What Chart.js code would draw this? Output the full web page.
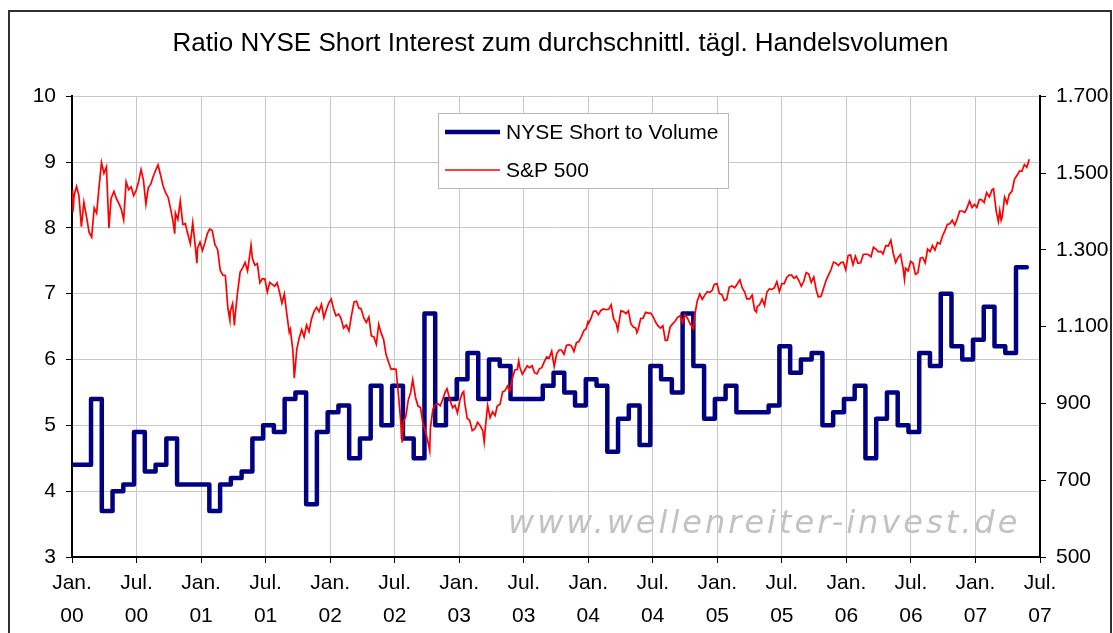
<!DOCTYPE html>
<html>
<head>
<meta charset="utf-8">
<script src="https://cdn.jsdelivr.net/npm/chart.js@4.4.1/dist/chart.umd.min.js"></script>
<style>
  html, body { margin: 0; padding: 0; background: #fff; }
</style>
</head>
<body>
<canvas id="chart" width="1113" height="633"></canvas>
<script>
// NYSE short interest / avg daily volume, one value per month from Jan 2000
const shortRatio = [
  4.4, 4.4, 5.4, 3.7, 4.0, 4.1, 4.9, 4.3, 4.4, 4.8, 4.1, 4.1,
  4.1, 3.7, 4.1, 4.2, 4.3, 4.8, 5.0, 4.9, 5.4, 5.5, 3.8, 4.9,
  5.2, 5.3, 4.5, 4.8, 5.6, 5.0, 5.6, 4.8, 4.5, 6.7, 5.0, 5.4,
  5.7, 6.1, 5.4, 6.0, 5.9, 5.4, 5.4, 5.4, 5.6, 5.8, 5.5, 5.3,
  5.7, 5.6, 4.6, 5.1, 5.3, 4.7, 5.9, 5.7, 5.5, 6.7, 5.9, 5.1,
  5.4, 5.6, 5.2, 5.2, 5.2, 5.3, 6.2, 5.8, 6.0, 6.1, 5.0, 5.2,
  5.4, 5.6, 4.5, 5.1, 5.5, 5.0, 4.9, 6.1, 5.9, 7.0, 6.2, 6.0,
  6.3, 6.8, 6.2, 6.1, 7.4
];

// S&P 500, roughly weekly closes plus a few extreme days
const spxDates = [
  "2000-01-03","2000-01-04","2000-01-07","2000-01-14","2000-01-21","2000-01-28","2000-02-04","2000-02-11","2000-02-18","2000-02-25",
  "2000-03-03","2000-03-10","2000-03-17","2000-03-24","2000-03-31","2000-04-07","2000-04-14","2000-04-20","2000-04-28","2000-05-05",
  "2000-05-12","2000-05-19","2000-05-26","2000-06-02","2000-06-09","2000-06-16","2000-06-23","2000-06-30","2000-07-07","2000-07-14",
  "2000-07-21","2000-07-28","2000-08-04","2000-08-11","2000-08-18","2000-08-25","2000-09-01","2000-09-08","2000-09-15","2000-09-22",
  "2000-09-29","2000-10-06","2000-10-13","2000-10-18","2000-10-20","2000-10-27","2000-11-03","2000-11-10","2000-11-17","2000-11-24",
  "2000-12-01","2000-12-08","2000-12-15","2000-12-20","2000-12-22","2000-12-29",
  "2001-01-05","2001-01-12","2001-01-19","2001-01-26","2001-02-02","2001-02-09","2001-02-16","2001-02-23","2001-03-02","2001-03-09",
  "2001-03-16","2001-03-22","2001-03-23","2001-03-30","2001-04-04","2001-04-06","2001-04-12","2001-04-20","2001-04-27","2001-05-04",
  "2001-05-11","2001-05-18","2001-05-21","2001-05-25","2001-06-01","2001-06-08","2001-06-15","2001-06-22","2001-06-29","2001-07-06",
  "2001-07-13","2001-07-20","2001-07-27","2001-08-03","2001-08-10","2001-08-17","2001-08-24","2001-08-31","2001-09-07","2001-09-10",
  "2001-09-17","2001-09-21","2001-09-28","2001-10-05","2001-10-12","2001-10-19","2001-10-26","2001-11-02","2001-11-09","2001-11-16",
  "2001-11-23","2001-11-30","2001-12-07","2001-12-14","2001-12-21","2001-12-28",
  "2002-01-04","2002-01-11","2002-01-18","2002-01-25","2002-02-01","2002-02-08","2002-02-15","2002-02-22","2002-03-01","2002-03-08",
  "2002-03-15","2002-03-22","2002-03-28","2002-04-05","2002-04-12","2002-04-19","2002-04-26","2002-05-03","2002-05-10","2002-05-17",
  "2002-05-24","2002-05-31","2002-06-07","2002-06-14","2002-06-21","2002-06-28","2002-07-05","2002-07-12","2002-07-19","2002-07-23",
  "2002-07-26","2002-08-02","2002-08-09","2002-08-16","2002-08-22","2002-08-30","2002-09-06","2002-09-13","2002-09-20","2002-09-27",
  "2002-10-04","2002-10-09","2002-10-11","2002-10-18","2002-10-25","2002-11-01","2002-11-08","2002-11-15","2002-11-22","2002-11-27",
  "2002-12-06","2002-12-13","2002-12-20","2002-12-27",
  "2003-01-03","2003-01-10","2003-01-14","2003-01-17","2003-01-24","2003-01-31","2003-02-07","2003-02-14","2003-02-21","2003-02-28",
  "2003-03-07","2003-03-11","2003-03-14","2003-03-21","2003-03-28","2003-04-04","2003-04-11","2003-04-17","2003-04-25","2003-05-02",
  "2003-05-09","2003-05-16","2003-05-23","2003-05-30","2003-06-06","2003-06-13","2003-06-17","2003-06-20","2003-06-27","2003-07-03",
  "2003-07-11","2003-07-18","2003-07-25","2003-08-01","2003-08-08","2003-08-15","2003-08-22","2003-08-29","2003-09-05","2003-09-12",
  "2003-09-19","2003-09-26","2003-10-03","2003-10-10","2003-10-17","2003-10-24","2003-10-31","2003-11-07","2003-11-14","2003-11-21",
  "2003-11-28","2003-12-05","2003-12-12","2003-12-19","2003-12-26","2003-12-31",
  "2004-01-02","2004-01-09","2004-01-16","2004-01-23","2004-01-30","2004-02-06","2004-02-13","2004-02-20","2004-02-27","2004-03-05",
  "2004-03-12","2004-03-19","2004-03-24","2004-04-02","2004-04-09","2004-04-16","2004-04-23","2004-04-30","2004-05-07","2004-05-14",
  "2004-05-17","2004-05-21","2004-05-28","2004-06-04","2004-06-11","2004-06-18","2004-06-25","2004-07-02","2004-07-09","2004-07-16",
  "2004-07-23","2004-07-30","2004-08-06","2004-08-12","2004-08-20","2004-08-27","2004-09-03","2004-09-10","2004-09-17","2004-09-24",
  "2004-10-01","2004-10-08","2004-10-15","2004-10-25","2004-10-29","2004-11-05","2004-11-12","2004-11-19","2004-11-26","2004-12-03",
  "2004-12-10","2004-12-17","2004-12-23","2004-12-31",
  "2005-01-07","2005-01-14","2005-01-21","2005-01-28","2005-02-04","2005-02-11","2005-02-18","2005-02-25","2005-03-04","2005-03-11",
  "2005-03-18","2005-03-24","2005-04-01","2005-04-08","2005-04-15","2005-04-20","2005-04-22","2005-04-29","2005-05-06","2005-05-13",
  "2005-05-20","2005-05-27","2005-06-03","2005-06-10","2005-06-17","2005-06-24","2005-07-01","2005-07-08","2005-07-15","2005-07-22",
  "2005-07-29","2005-08-05","2005-08-12","2005-08-19","2005-08-26","2005-09-02","2005-09-09","2005-09-16","2005-09-23","2005-09-30",
  "2005-10-07","2005-10-13","2005-10-21","2005-10-28","2005-11-04","2005-11-11","2005-11-18","2005-11-25","2005-12-02","2005-12-09",
  "2005-12-16","2005-12-23","2005-12-30",
  "2006-01-06","2006-01-13","2006-01-20","2006-01-27","2006-02-03","2006-02-10","2006-02-17","2006-02-24","2006-03-03","2006-03-10",
  "2006-03-17","2006-03-24","2006-03-31","2006-04-07","2006-04-13","2006-04-21","2006-04-28","2006-05-05","2006-05-12","2006-05-19",
  "2006-05-26","2006-06-02","2006-06-09","2006-06-13","2006-06-16","2006-06-23","2006-06-30","2006-07-07","2006-07-14","2006-07-21",
  "2006-07-28","2006-08-04","2006-08-11","2006-08-18","2006-08-25","2006-09-01","2006-09-08","2006-09-15","2006-09-22","2006-09-29",
  "2006-10-06","2006-10-13","2006-10-20","2006-10-27","2006-11-03","2006-11-10","2006-11-17","2006-11-24","2006-12-01","2006-12-08",
  "2006-12-15","2006-12-22","2006-12-29",
  "2007-01-05","2007-01-12","2007-01-19","2007-01-26","2007-02-02","2007-02-09","2007-02-16","2007-02-20","2007-02-27","2007-03-02",
  "2007-03-05","2007-03-09","2007-03-13","2007-03-16","2007-03-23","2007-03-30","2007-04-05","2007-04-13","2007-04-20","2007-04-27",
  "2007-05-04","2007-05-11","2007-05-18","2007-05-25","2007-06-01"
];
const spxValues = [
  1455, 1399, 1441, 1465, 1441, 1360, 1424, 1387, 1346, 1333,
  1409, 1395, 1464, 1527, 1499, 1516, 1357, 1434, 1452, 1433,
  1421, 1406, 1378, 1477, 1457, 1464, 1441, 1455, 1478, 1509,
  1481, 1419, 1462, 1471, 1491, 1507, 1521, 1495, 1466, 1449,
  1437, 1408, 1374, 1342, 1396, 1379, 1427, 1366, 1368, 1341,
  1316, 1370, 1312, 1265, 1305, 1320,
  1298, 1318, 1342, 1354, 1350, 1314, 1301, 1246, 1234, 1233,
  1150, 1117, 1139, 1160, 1103, 1128, 1183, 1242, 1253, 1267,
  1245, 1291, 1312, 1277, 1260, 1264, 1214, 1225, 1224, 1190,
  1215, 1210, 1205, 1214, 1190, 1161, 1185, 1134, 1085, 1093,
  1039, 966, 1041, 1071, 1092, 1073, 1104, 1087, 1120, 1139,
  1150, 1139, 1158, 1123, 1144, 1161,
  1172, 1146, 1128, 1133, 1122, 1096, 1104, 1089, 1131, 1164,
  1166, 1148, 1147, 1122, 1111, 1125, 1076, 1073, 1054, 1106,
  1083, 1067, 1027, 1007, 989, 990, 989, 921, 847, 798,
  852, 865, 908, 928, 962, 916, 893, 889, 846, 827,
  800, 777, 835, 884, 897, 900, 894, 910, 930, 938,
  907, 889, 895, 875,
  908, 927, 931, 901, 861, 856, 829, 834, 851, 841,
  829, 800, 833, 895, 863, 878, 868, 893, 898, 930,
  933, 945, 933, 964, 987, 988, 1011, 995, 976, 985,
  998, 993, 998, 980, 977, 990, 993, 1008, 1021, 1018,
  1036, 996, 1029, 1039, 1039, 1028, 1051, 1053, 1050, 1035,
  1058, 1061, 1074, 1089, 1095, 1112,
  1109, 1122, 1140, 1141, 1131, 1142, 1146, 1144, 1145, 1157,
  1120, 1110, 1091, 1141, 1139, 1134, 1141, 1107, 1099, 1096,
  1084, 1093, 1121, 1122, 1137, 1135, 1135, 1126, 1112, 1102,
  1096, 1102, 1064, 1064, 1099, 1107, 1114, 1124, 1128, 1110,
  1131, 1122, 1108, 1095, 1130, 1167, 1185, 1171, 1182, 1191,
  1189, 1194, 1210, 1212,
  1186, 1184, 1168, 1171, 1203, 1206, 1201, 1211, 1222, 1200,
  1190, 1172, 1172, 1182, 1143, 1138, 1152, 1157, 1172, 1155,
  1190, 1198, 1197, 1201, 1217, 1191, 1212, 1212, 1228, 1234,
  1234, 1226, 1231, 1220, 1205, 1218, 1241, 1237, 1215, 1229,
  1196, 1177, 1179, 1199, 1220, 1234, 1248, 1268, 1265, 1259,
  1267, 1268, 1248,
  1285, 1287, 1261, 1283, 1265, 1266, 1288, 1289, 1287, 1282,
  1307, 1302, 1295, 1296, 1289, 1311, 1310, 1325, 1291, 1267,
  1280, 1288, 1253, 1223, 1252, 1245, 1270, 1265, 1236, 1240,
  1278, 1280, 1266, 1302, 1295, 1311, 1299, 1319, 1315, 1336,
  1350, 1366, 1368, 1377, 1364, 1380, 1401, 1401, 1397, 1410,
  1427, 1410, 1418,
  1410, 1431, 1430, 1423, 1449, 1438, 1456, 1459, 1400, 1387,
  1374, 1402, 1377, 1386, 1437, 1421, 1444, 1453, 1484, 1494,
  1505, 1505, 1522, 1515, 1536
];

// x axis in months since Jan 2000, ticks every half year
const xTickMonths = [0, 6, 12, 18, 24, 30, 36, 42, 48, 54, 60, 66, 72, 78, 84, 90];
const xTickLabels = [
  ["Jan.", "00"], ["Jul.", "00"], ["Jan.", "01"], ["Jul.", "01"],
  ["Jan.", "02"], ["Jul.", "02"], ["Jan.", "03"], ["Jul.", "03"],
  ["Jan.", "04"], ["Jul.", "04"], ["Jan.", "05"], ["Jul.", "05"],
  ["Jan.", "06"], ["Jul.", "06"], ["Jan.", "07"], ["Jul.", "07"]
];

const FONT = "'Liberation Sans', Arial, sans-serif";
const STEP_AT = -0.23; // each monthly figure takes over a little before the month starts

function toMonths(s) {
  const [y, m, d] = s.split("-").map(Number);
  const dim = new Date(y, m, 0).getDate();
  return (y - 2000) * 12 + (m - 1) + (d - 1) / dim;
}

function deNumber(v) {
  return String(v).replace(/\B(?=(\d{3})+(?!\d))/g, ".");
}

// each point holds its value until the next one; a closing point ends the last month
const shortData = shortRatio.map((v, i) => ({ x: i + STEP_AT, y: v }));
shortData.push({ x: shortRatio.length + STEP_AT, y: shortRatio[shortRatio.length - 1] });
const spxData = spxDates.map((d, i) => ({ x: toMonths(d), y: spxValues[i] }));

// frame, watermark and the boxed legend
const decor = {
  id: "decor",
  beforeDraw(chart) {
    const ctx = chart.ctx;
    ctx.save();
    ctx.fillStyle = "#fff";
    ctx.fillRect(0, 0, chart.width, chart.height);
    ctx.strokeStyle = "#303030";
    ctx.lineWidth = 2;
    ctx.strokeRect(9, 11, 1102, 700);
    ctx.restore();
  },
  beforeDatasetsDraw(chart) {
    const ctx = chart.ctx;
    ctx.save();
    ctx.fillStyle = "#c2c2c2";
    ctx.font = "italic 32px 'DejaVu Sans', Verdana, sans-serif";
    ctx.letterSpacing = "3px";
    ctx.textBaseline = "alphabetic";
    ctx.textAlign = "left";
    ctx.fillText("www.wellenreiter-invest.de", 508, 533);
    ctx.restore();
  },
  afterDatasetsDraw(chart) {
    const ctx = chart.ctx;
    const ds = chart.data.datasets;
    ctx.save();
    ctx.fillStyle = "#fff";
    ctx.fillRect(438, 113, 290, 75);
    ctx.strokeStyle = "#b8b8b8";
    ctx.lineWidth = 1;
    ctx.strokeRect(438.5, 113.5, 290, 75);
    const rows = [ds[1], ds[0]];
    rows.forEach((d, i) => {
      const y = 132 + i * 38;
      ctx.strokeStyle = d.borderColor;
      ctx.lineWidth = d.borderWidth;
      ctx.lineCap = "butt";
      ctx.beginPath();
      ctx.moveTo(445, y);
      ctx.lineTo(500, y);
      ctx.stroke();
      ctx.fillStyle = "#000";
      ctx.font = "21px " + FONT;
      ctx.textBaseline = "middle";
      ctx.fillText(d.label, 506, y + 1);
    });
    ctx.restore();
  }
};

new Chart(document.getElementById("chart"), {
  type: "line",
  data: {
    datasets: [
      {
        label: "S&P 500",
        data: spxData,
        yAxisID: "y2",
        borderColor: "#ff0000",
        borderWidth: 1.7,
        pointRadius: 0,
        tension: 0,
        order: 0
      },
      {
        label: "NYSE Short to Volume",
        data: shortData,
        yAxisID: "y",
        borderColor: "#000080",
        borderWidth: 4.5,
        borderJoinStyle: "round",
        borderCapStyle: "round",
        stepped: "before",
        pointRadius: 0,
        order: 1
      }
    ]
  },
  options: {
    responsive: false,
    animation: false,
    devicePixelRatio: 1,
    layout: { padding: { left: 8, right: 0, top: 0, bottom: 0 } },
    plugins: {
      legend: { display: false },
      tooltip: { enabled: false },
      title: {
        display: true,
        text: "Ratio NYSE Short Interest zum durchschnittl. tägl. Handelsvolumen",
        color: "#000",
        font: { family: FONT, size: 26, weight: "normal" },
        padding: { top: 28, bottom: 37 }
      }
    },
    scales: {
      x: {
        type: "linear",
        min: 0,
        max: 90,
        afterBuildTicks: (s) => { s.ticks = xTickMonths.map((v) => ({ value: v })); },
        afterFit: (s) => { s.height = 76; },
        ticks: {
          autoSkip: false,
          maxRotation: 0,
          color: "#000",
          padding: 4,
          font: { family: FONT, size: 21, lineHeight: 1.55 },
          callback: (v) => xTickLabels[xTickMonths.indexOf(v)]
        },
        grid: { color: "#c8c8c8", tickColor: "#000", tickLength: 6 },
        border: { color: "#000", width: 2 }
      },
      y: {
        position: "left",
        min: 3,
        max: 10,
        afterFit: (s) => { s.width = 64; },
        ticks: {
          stepSize: 1,
          color: "#000",
          padding: 10,
          font: { family: FONT, size: 21 }
        },
        grid: { color: "#c8c8c8", tickColor: "#000", tickLength: 6 },
        border: { color: "#000", width: 2 }
      },
      y2: {
        position: "right",
        min: 500,
        max: 1700,
        afterFit: (s) => { s.width = 73; },
        ticks: {
          stepSize: 200,
          color: "#000",
          padding: 10,
          font: { family: FONT, size: 21 },
          callback: (v) => deNumber(v)
        },
        grid: { drawOnChartArea: false, tickColor: "#000", tickLength: 6 },
        border: { color: "#000", width: 2 }
      }
    }
  },
  plugins: [decor]
});
</script>
</body>
</html>
